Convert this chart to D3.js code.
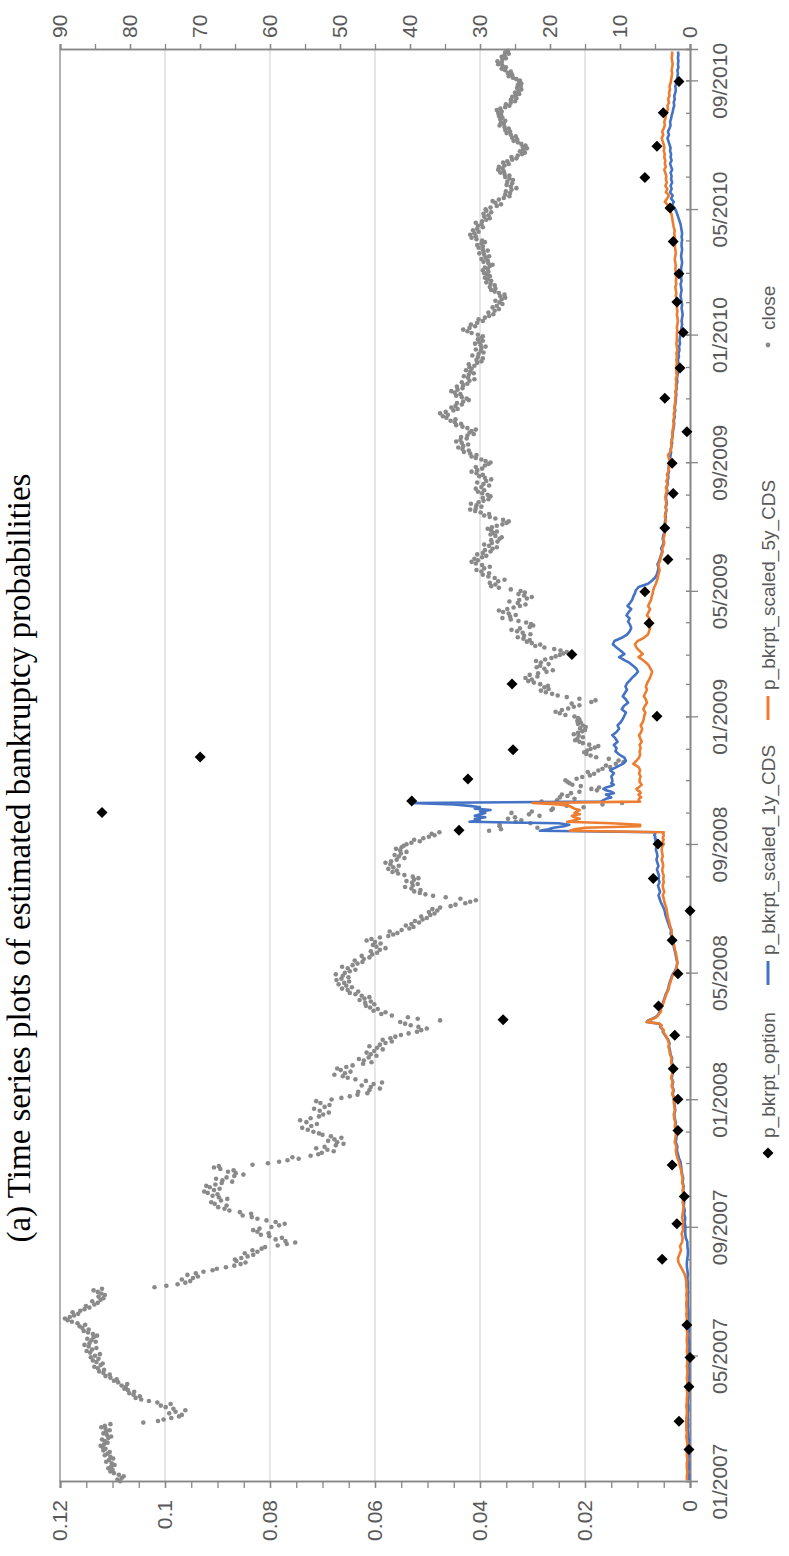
<!DOCTYPE html>
<html>
<head>
<meta charset="utf-8">
<script src="https://cdn.jsdelivr.net/npm/d3@7"></script>
<style>
  body { margin: 0; background: #fff; }
  svg { display: block; }
</style>
</head>
<body>
<div id="chart"></div>
<script>
// months covered by the series (one entry per month, 01/2007 .. 09/2010)
var monthLabels = ["2007-01","2007-02","2007-03","2007-04","2007-05","2007-06","2007-07","2007-08","2007-09","2007-10","2007-11","2007-12",
  "2008-01","2008-02","2008-03","2008-04","2008-05","2008-06","2008-07","2008-08","2008-09","2008-10","2008-11","2008-12",
  "2009-01","2009-02","2009-03","2009-04","2009-05","2009-06","2009-07","2009-08","2009-09","2009-10","2009-11","2009-12",
  "2010-01","2010-02","2010-03","2010-04","2010-05","2010-06","2010-07","2010-08","2010-09"]

// close price (right axis), daily values, spread over each month
var closeByMonth = [
  [81.4,81.8,81.2,80.9,81.6,82.3,82.8,82.5,83.1,82.7,82.2,82.6,83.4,83.0,82.4,82.8,83.6,83.2,82.9,83.8],
  [83.5,83.9,84.2,83.7,83.2,83.6,84.0,83.1,82.7,83.3,83.8,83.4,82.9,83.5,84.1,83.6,82.8,78.1,76.0],
  [75.2,74.1,73.0,72.6,74.4,73.5,72.1,73.8,74.9,75.6,74.2,76.1,77.3,78.4,79.2,78.6,79.5,80.1,79.4,80.3,80.8],
  [80.6,81.2,80.4,81.7,82.3,81.9,82.8,83.5,82.9,83.8,84.4,83.7,84.6,85.1,84.2,83.9,84.8,85.3,84.5,85.6],
  [85.0,84.3,85.7,86.2,85.4,84.8,85.9,86.5,85.8,84.9,85.5,86.1,85.2,84.7,85.3,86.0,86.6,85.9,86.8,87.2,86.4],
  [87.5,88.3,88.9,89.3,88.6,88.0,87.4,88.2,87.1,86.5,85.8,86.3,85.1,84.6,85.4,84.2,83.8,84.5,83.6,84.1],
  [84.6,85.2,84.0,76.5,74.8,73.2,72.1,71.4,72.6,71.0,70.3,71.8,70.6,69.5,68.2,67.6,66.3,65.1,64.2,63.5,64.8],
  [65.0,64.1,63.2,62.4,63.6,61.8,62.5,61.2,60.7,58.9,57.6,56.4,57.8,59.2,58.3,60.1,61.3,60.2,61.8,62.4,61.5],
  [59.8,58.7,57.9,59.2,60.5,61.8,62.6,63.9,62.7,64.3,65.8,66.5,67.4,66.2,67.9,68.4,67.0,66.1,67.3],
  [68.2,67.5,68.9,69.4,68.0,67.2,68.6,69.1,67.8,66.9,65.4,66.8,67.7,66.2,65.1,63.8,64.9,66.0,65.2,67.1,68.0,67.3,62.5],
  [60.3,58.7,57.5,55.9,56.8,54.2,53.1,52.6,50.9,51.8,53.4,52.2,50.6,49.5,50.4,51.7,50.8,49.8,51.3,52.5,53.0],
  [53.8,54.6,55.4,54.1,53.3,54.8,55.7,54.2,53.0,52.4,51.6,52.9,53.7,52.2,51.5,52.8,53.4],
  [51.2,49.8,48.6,47.5,46.1,47.4,45.8,44.3,45.6,46.9,45.2,44.0,46.3,47.8,48.9,49.6,50.8,49.3,48.5,49.9,50.4],
  [49.1,48.2,46.7,45.5,46.6,47.3,45.9,44.8,45.6,46.2,45.1,43.9,44.7,45.8,44.3,43.5,42.6,43.9,42.8],
  [42.1,41.3,40.2,39.0,38.4,37.6,38.8,39.9,40.7,41.4,35.7,38.9,40.3,42.6,44.1,43.5,45.2,44.6,45.7,46.3],
  [45.1,46.4,45.6,47.2,46.5,45.8,46.9,47.8,48.6,47.4,48.9,49.7,48.3,49.1,50.2,49.4,48.7,50.5,49.8,48.8,49.6,50.6],
  [49.3,48.6,47.8,48.9,49.7,48.2,47.5,46.8,47.9,46.6,45.8,46.9,45.4,44.7,45.6,44.3,43.5,44.8,45.3,44.2,45.0],
  [46.2,45.5,44.3,43.1,42.4,41.8,42.9,41.2,40.1,39.5,40.6,39.8,38.7,39.3,38.2,37.6,38.4,37.1,36.5,37.3,36.1],
  [36.8,35.7,34.2,33.5,32.1,31.4,30.6,32.8,34.9,36.7,37.8,38.6,39.4,38.5,39.8,40.7,39.6,38.9,39.7,40.5,39.4,38.8],
  [39.6,40.8,41.7,42.5,41.9,43.1,42.4,41.6,42.8,43.5,42.7,41.9,40.8,41.6,42.2,41.3,40.5,41.4,42.0,41.2,40.9],
  [40.5,39.8,38.6,39.4,38.1,37.3,36.5,36.9,35.8,28.7,27.0,21.8,27.2,27.2,22.8,24.9,24.1,26.0,25.0,21.5,23.0],
  [25.5,22.6,19.8,19.6,15.2,17.6,12.5,9.7,21.2,19.0,16.5,18.6,17.5,18.3,17.0,15.8,13.3,14.1,13.0,15.6,16.8,17.2,17.5],
  [17.8,16.2,15.4,14.3,13.7,14.6,13.1,12.5,11.4,12.0,10.6,9.5,10.2,11.6,13.4,14.2,14.8,15.1,14.7],
  [14.2,13.6,13.1,14.4,15.3,15.8,16.4,16.1,15.3,15.9,16.6,16.0,15.4,15.0,15.7,14.9,15.3,16.0,15.6,16.1,15.8,16.0],
  [16.5,17.8,18.6,19.2,18.3,17.4,16.6,15.8,16.9,14.1,13.5,15.8,17.6,18.9,19.7,20.6,21.3,20.2,20.8,20.3],
  [21.4,22.3,23.1,22.6,23.5,21.8,22.9,21.7,20.5,19.6,20.8,21.9,21.4,20.2,21.3,22.0,20.7,19.8,19.2],
  [18.6,18.1,17.6,18.5,19.4,20.8,22.1,21.4,22.6,23.3,22.9,23.8,24.6,23.7,22.8,23.9,24.7,25.5,24.3,22.9,22.4,22.7],
  [23.4,24.5,25.6,26.8,25.7,24.9,25.9,26.7,27.3,26.1,25.2,24.3,23.5,24.6,25.8,24.4,23.3,22.6,23.7,24.5,23.6],
  [24.2,25.6,27.3,28.4,27.8,28.6,27.4,26.5,27.9,28.8,29.6,28.7,29.8,30.5,29.4,28.6,29.7,30.6,31.2,30.3],
  [30.8,29.7,29.1,30.4,29.6,28.5,29.3,28.2,27.6,28.7,29.4,28.3,27.5,28.4,27.2,26.9,27.8,28.5,28.1,27.6,28.4,28.9],
  [28.3,27.6,26.8,26.2,25.9,26.7,27.8,28.6,29.4,28.7,29.9,30.7,31.4,30.6,29.8,30.5,31.3,30.2,29.5,28.8,29.6,28.5],
  [28.9,29.7,30.3,29.4,30.6,29.8,28.7,29.5,30.4,29.1,28.4,29.3,30.1,29.6,30.5,31.2,30.4,29.7,30.6,29.3,28.8],
  [28.5,29.2,29.8,30.6,31.2,30.5,31.4,32.3,31.6,32.5,33.1,32.4,31.7,32.6,33.4,32.8,31.9,32.7,31.8,30.9,31.5],
  [31.2,30.6,31.8,32.5,33.4,32.7,33.6,34.2,33.5,34.8,35.3,34.6,35.7,34.9,33.8,33.2,34.1,33.5,32.6,33.3,32.4,31.6],
  [31.9,32.6,33.4,32.8,33.6,34.1,33.2,32.5,33.3,32.4,31.8,32.6,31.5,30.8,31.7,32.3,31.6,30.9,31.4,32.0,31.2],
  [31.5,30.8,31.6,30.4,29.8,30.5,29.6,30.3,31.1,30.2,29.5,29.9,30.6,29.8,29.2,29.9,30.7,30.1,29.6,30.3,29.8,29.6],
  [30.3,31.2,31.8,32.4,31.5,30.7,31.3,30.4,29.6,30.2,29.3,28.7,28.1,28.8,27.9,27.3,28.2,27.6,26.8],
  [27.2,27.8,26.9,26.4,27.1,26.5,27.3,27.9,28.4,27.8,28.6,27.9,28.5,29.1,28.4,28.9,29.3,28.6,29.0],
  [29.4,28.8,29.6,28.9,29.3,28.6,28.2,28.8,29.5,28.9,29.8,29.2,28.7,29.4,30.1,29.5,28.9,29.6,30.2,29.6,30.4,29.8,29.3],
  [29.7,30.5,31.2,30.6,31.4,30.8,30.2,31.0,30.4,29.6,30.3,29.8,30.6,29.7,29.1,28.6,29.4,28.8,29.5,28.4,29.1],
  [29.2,28.5,27.6,27.0,27.8,28.2,27.3,26.6,25.8,26.4,25.7,26.3,25.5,24.8,25.6,26.2,25.4,26.1,25.3,25.8],
  [26.4,25.8,26.5,27.1,26.6,27.4,26.8,27.3,26.5,25.9,26.7,26.1,25.4,24.8,25.5,24.6,24.0,23.6,24.3,23.8,23.3,23.9],
  [23.5,24.1,24.6,25.2,24.7,25.4,24.9,25.6,26.2,25.7,26.4,25.9,26.5,27.2,26.6,27.0,26.4,27.1,26.8,27.3,27.0],
  [27.4,26.9,27.6,27.1,26.4,25.8,26.3,25.6,25.0,25.6,24.8,25.4,24.9,24.4,25.0,24.5,24.1,24.7,24.2,24.6,24.1,24.4],
  [24.3,24.8,25.3,25.9,25.4,26.0,25.6,26.4,26.9,26.3,26.8,27.4,26.9,27.5,26.8,26.3,26.9,26.5,25.9,26.4,26.0]
]

// p_bkrpt_scaled_1y_CDS (left axis), per month
var cds1yByMonth = [
  [0.0002,0.0002,0.0003,0.0002,0.0002,0.0003,0.0002,0.0002],
  [0.0002,0.0003,0.0002,0.0003,0.0003,0.0004,0.0003,0.0004],
  [0.0004,0.0004,0.0003,0.0003,0.0004,0.0003,0.0003,0.0003],
  [0.0003,0.0003,0.0002,0.0002,0.0002,0.0003,0.0002,0.0002],
  [0.0002,0.0002,0.0002,0.0002,0.0003,0.0003,0.0002,0.0003],
  [0.0003,0.0003,0.0003,0.0003,0.0004,0.0004,0.0004,0.0004],
  [0.0004,0.0004,0.0004,0.0005,0.0004,0.0005,0.0006,0.0006],
  [0.0005,0.0004,0.0004,0.0005,0.0005,0.0008,0.0009,0.0009],
  [0.0009,0.0010,0.0009,0.0011,0.0010,0.0012,0.0011,0.0012],
  [0.0012,0.0013,0.0012,0.0014,0.0013,0.0015,0.0016,0.0017],
  [0.0018,0.0021,0.0023,0.0025,0.0024,0.0027,0.0026,0.0025],
  [0.0026,0.0028,0.0027,0.0029,0.0030,0.0028,0.0029,0.0030],
  [0.0030,0.0033,0.0031,0.0034,0.0032,0.0035,0.0033,0.0032],
  [0.0033,0.0035,0.0034,0.0037,0.0038,0.0040,0.0039,0.0042],
  [0.0046,0.0048,0.0050,0.0052,0.0051,0.0054,0.0057,0.0055,0.0060,0.0082,0.0080,0.0072,0.0066,0.0062,0.0060,0.0058,0.0056,0.0057,0.0055,0.0054],
  [0.0052,0.0050,0.0048,0.0046,0.0043,0.0041,0.0040,0.0038,0.0036,0.0034],
  [0.0030,0.0027,0.0025,0.0024,0.0026,0.0027,0.0028,0.0030,0.0031,0.0032],
  [0.0033,0.0035,0.0037,0.0036,0.0039,0.0041,0.0043,0.0045,0.0047,0.0048],
  [0.0050,0.0053,0.0056,0.0058,0.0060,0.0057,0.0059,0.0061,0.0058,0.0060],
  [0.0059,0.0061,0.0063,0.0060,0.0062,0.0064,0.0062,0.0063,0.0065,0.0064],
  [0.0063,0.0065,0.0066,0.0064,0.0067,0.0066,0.0068,0.0066,0.0066,0.0286,0.027,0.026,0.024,0.023,0.025,0.042,0.040,0.041,0.039,0.041,0.040],
  [0.039,0.040,0.038,0.041,0.040,0.042,0.045,0.0533,0.017,0.0165,0.016,0.015,0.0155,0.016,0.0145,0.015,0.016,0.0165,0.016,0.015,0.0145,0.0150,0.0148],
  [0.0148,0.0150,0.0145,0.0152,0.0140,0.0128,0.0122,0.0125,0.0135,0.0142],
  [0.0140,0.0145,0.0138,0.0142,0.0148,0.0140,0.0135,0.0138,0.0132,0.0128],
  [0.0125,0.0122,0.0130,0.0126,0.0118,0.0122,0.0128,0.0124,0.0120,0.0123],
  [0.0120,0.0115,0.0110,0.0104,0.0099,0.0102,0.0108,0.0115,0.0125,0.0135],
  [0.0125,0.0132,0.0140,0.0147,0.0144,0.0130,0.0120,0.0115,0.0112,0.0114],
  [0.0118,0.0115,0.0121,0.0117,0.0112,0.0119,0.0114,0.0110,0.0108,0.0105],
  [0.0103,0.0098,0.0080,0.0072,0.0066,0.0063,0.0061,0.0060,0.0062,0.0059],
  [0.0057,0.0055,0.0053,0.0055,0.0052,0.0050,0.0052,0.0051,0.0049,0.0050],
  [0.0049,0.0048,0.0047,0.0046,0.0047,0.0045,0.0046,0.0044,0.0045,0.0046],
  [0.0044,0.0043,0.0045,0.0042,0.0043,0.0041,0.0042,0.0040,0.0041,0.0040],
  [0.0039,0.0038,0.0037,0.0036,0.0037,0.0035,0.0034,0.0035,0.0033,0.0033],
  [0.0032,0.0031,0.0030,0.0031,0.0029,0.0030,0.0028,0.0029,0.0028,0.0027],
  [0.0027,0.0026,0.0027,0.0025,0.0026,0.0024,0.0025,0.0024,0.0023,0.0024],
  [0.0023,0.0022,0.0023,0.0021,0.0022,0.0020,0.0021,0.0019,0.0020,0.0019],
  [0.0018,0.0017,0.0016,0.0015,0.0016,0.0015,0.0014,0.0015,0.0016,0.0015],
  [0.0016,0.0017,0.0018,0.0017,0.0016,0.0017,0.0018,0.0016,0.0017,0.0016],
  [0.0016,0.0017,0.0016,0.0015,0.0016,0.0017,0.0016,0.0015,0.0016,0.0016],
  [0.0015,0.0016,0.0015,0.0016,0.0017,0.0018,0.0020,0.0022,0.0024,0.0026],
  [0.0029,0.0034,0.0031,0.0036,0.0033,0.0038,0.0035,0.0037,0.0034,0.0036],
  [0.0035,0.0037,0.0034,0.0036,0.0038,0.0035,0.0037,0.0036,0.0038,0.0037],
  [0.0039,0.0041,0.0043,0.0040,0.0042,0.0039,0.0037,0.0038,0.0036,0.0035],
  [0.0033,0.0032,0.0030,0.0031,0.0029,0.0030,0.0028,0.0027,0.0028,0.0026],
  [0.0025,0.0024,0.0023,0.0024,0.0022,0.0023,0.0022,0.0023,0.0022,0.0023]
]

// p_bkrpt_scaled_5y_CDS (left axis), per month
var cds5yByMonth = [
  [0.0006,0.0006,0.0005,0.0006,0.0006,0.0005,0.0006,0.0006],
  [0.0006,0.0005,0.0006,0.0007,0.0006,0.0007,0.0007,0.0007],
  [0.0007,0.0006,0.0006,0.0007,0.0006,0.0006,0.0005,0.0006],
  [0.0005,0.0005,0.0006,0.0005,0.0005,0.0006,0.0005,0.0005],
  [0.0005,0.0006,0.0005,0.0006,0.0006,0.0005,0.0006,0.0006],
  [0.0006,0.0006,0.0007,0.0006,0.0007,0.0007,0.0006,0.0007],
  [0.0006,0.0007,0.0007,0.0008,0.0010,0.0014,0.0018,0.0022],
  [0.0023,0.0020,0.0017,0.0019,0.0015,0.0014,0.0016,0.0013],
  [0.0014,0.0013,0.0015,0.0014,0.0013,0.0012,0.0014,0.0013],
  [0.0013,0.0014,0.0013,0.0015,0.0014,0.0016,0.0017,0.0019],
  [0.0021,0.0024,0.0026,0.0027,0.0026,0.0029,0.0028,0.0027],
  [0.0027,0.0029,0.0028,0.0030,0.0031,0.0029,0.0030,0.0031],
  [0.0031,0.0034,0.0032,0.0035,0.0033,0.0036,0.0034,0.0033],
  [0.0034,0.0036,0.0035,0.0038,0.0039,0.0041,0.0040,0.0043],
  [0.0045,0.0047,0.0049,0.0051,0.0050,0.0053,0.0056,0.0054,0.0058,0.0083,0.0078,0.0070,0.0064,0.0061,0.0059,0.0056,0.0055,0.0056,0.0054,0.0053],
  [0.0051,0.0049,0.0047,0.0045,0.0042,0.0040,0.0039,0.0037,0.0035,0.0033],
  [0.0029,0.0026,0.0025,0.0024,0.0025,0.0026,0.0027,0.0029,0.0030,0.0031],
  [0.0032,0.0034,0.0035,0.0035,0.0037,0.0039,0.0040,0.0042,0.0043,0.0044],
  [0.0045,0.0047,0.0049,0.0050,0.0052,0.0049,0.0051,0.0052,0.0050,0.0051],
  [0.0050,0.0052,0.0053,0.0051,0.0052,0.0054,0.0052,0.0053,0.0054,0.0053],
  [0.0050,0.0051,0.0052,0.0050,0.0052,0.0051,0.0050,0.0051,0.0050,0.0229,0.022,0.020,0.0095,0.0095,0.015,0.0234,0.022,0.021,0.022,0.0225,0.021],
  [0.022,0.0215,0.021,0.022,0.0225,0.023,0.025,0.030,0.0095,0.0098,0.0097,0.0093,0.0096,0.0098,0.0094,0.0095,0.0100,0.0102,0.0098,0.0095,0.0092,0.0094,0.0096],
  [0.0096,0.0094,0.0097,0.0095,0.0098,0.0108,0.0102,0.0097,0.0095,0.0096],
  [0.0094,0.0096,0.0092,0.0095,0.0097,0.0093,0.0091,0.0094,0.0090,0.0088],
  [0.0087,0.0085,0.0089,0.0086,0.0082,0.0084,0.0088,0.0085,0.0082,0.0084],
  [0.0082,0.0079,0.0076,0.0074,0.0072,0.0075,0.0078,0.0083,0.0090,0.0098],
  [0.0090,0.0096,0.0102,0.0105,0.0100,0.0088,0.0080,0.0078,0.0076,0.0078],
  [0.0080,0.0077,0.0082,0.0079,0.0076,0.0080,0.0077,0.0074,0.0073,0.0071],
  [0.0070,0.0068,0.0065,0.0063,0.0061,0.0060,0.0058,0.0059,0.0060,0.0057],
  [0.0056,0.0054,0.0052,0.0053,0.0050,0.0049,0.0051,0.0049,0.0048,0.0048],
  [0.0048,0.0047,0.0046,0.0048,0.0046,0.0045,0.0047,0.0045,0.0046,0.0047],
  [0.0046,0.0044,0.0046,0.0043,0.0045,0.0042,0.0044,0.0041,0.0040,0.0039],
  [0.0038,0.0040,0.0042,0.0038,0.0036,0.0035,0.0036,0.0034,0.0033,0.0034],
  [0.0033,0.0032,0.0031,0.0032,0.0030,0.0031,0.0029,0.0030,0.0029,0.0028],
  [0.0028,0.0027,0.0028,0.0026,0.0027,0.0026,0.0027,0.0025,0.0026,0.0026],
  [0.0026,0.0025,0.0026,0.0025,0.0026,0.0024,0.0025,0.0026,0.0025,0.0025],
  [0.0025,0.0024,0.0025,0.0024,0.0023,0.0024,0.0025,0.0024,0.0025,0.0024],
  [0.0025,0.0026,0.0027,0.0026,0.0027,0.0028,0.0026,0.0027,0.0026,0.0027],
  [0.0027,0.0028,0.0027,0.0028,0.0029,0.0028,0.0027,0.0028,0.0029,0.0028],
  [0.0028,0.0029,0.0030,0.0029,0.0031,0.0032,0.0033,0.0034,0.0035,0.0037],
  [0.0045,0.0042,0.0048,0.0044,0.0040,0.0046,0.0043,0.0047,0.0044,0.0046],
  [0.0045,0.0047,0.0049,0.0046,0.0048,0.0047,0.0049,0.0048,0.0050,0.0049],
  [0.0050,0.0052,0.0054,0.0051,0.0053,0.0050,0.0048,0.0049,0.0047,0.0046],
  [0.0044,0.0042,0.0043,0.0040,0.0042,0.0039,0.0040,0.0038,0.0039,0.0037],
  [0.0036,0.0035,0.0034,0.0035,0.0034,0.0033,0.0034,0.0035,0.0034,0.0034]
]

// p_bkrpt_option (left axis)
var optionDates = ["2007-02-01","2007-02-28","2007-04-02","2007-04-30","2007-05-31","2007-08-02","2007-09-05","2007-10-01","2007-10-31",
  "2007-12-03","2008-01-02","2008-01-31","2008-03-03","2008-03-18","2008-03-31","2008-05-01","2008-06-02","2008-06-30","2008-07-31",
  "2008-09-02","2008-09-15","2008-10-02","2008-10-13","2008-11-03","2008-11-24","2008-12-01","2009-01-02","2009-02-02","2009-03-02",
  "2009-04-01","2009-05-01","2009-06-01","2009-07-01","2009-08-03","2009-09-01","2009-10-01","2009-11-02","2009-12-01","2010-01-04",
  "2010-02-02","2010-03-01","2010-04-01","2010-05-03","2010-06-01","2010-07-01","2010-08-02","2010-09-01"]
var optionValues = [0.0002,0.0021,0.0002,0.0000,0.0006,0.0053,0.0025,0.0011,0.0034,
  0.0023,0.0023,0.0032,0.0029,0.0356,0.0060,0.0023,0.0034,0.0000,0.0070,
  0.0061,0.0440,0.1120,0.0530,0.0423,0.0933,0.0337,0.0063,0.0339,0.0225,
  0.0078,0.0086,0.0042,0.0048,0.0032,0.0034,0.0006,0.0048,0.0019,0.0013,
  0.0025,0.0021,0.0032,0.0038,0.0086,0.0063,0.0051,0.0021]

var leftTicks = [0, 0.02, 0.04, 0.06, 0.08, 0.1, 0.12]
var rightTicks = [0, 10, 20, 30, 40, 50, 60, 70, 80, 90]
var legendNames = ["p_bkrpt_option", "p_bkrpt_scaled_1y_CDS", "p_bkrpt_scaled_5y_CDS", "close"]

// The chart is drawn landscape and turned a quarter turn to the left
var W = 1556, H = 789
var margin = { top: 60, left: 74, right: 50, bottom: 99 }

var svg = d3.select("#chart").append("svg")
  .attr("width", H)
  .attr("height", W)

var g = svg.append("g")
  .attr("transform", "translate(0," + W + ") rotate(-90)")

var parse = d3.timeParse("%Y-%m-%d")
var parseMonth = d3.timeParse("%Y-%m")

var x = d3.scaleTime()
  .domain([new Date(2007, 0, 1), new Date(2010, 9, 1)])
  .range([margin.left, W - margin.right])
var yLeft = d3.scaleLinear().domain([0, 0.12]).range([H - margin.bottom, margin.top])
var yRight = d3.scaleLinear().domain([0, 90]).range([H - margin.bottom, margin.top])

// spread the values of each month evenly through that month
function spread(byMonth) {
  var out = []
  byMonth.forEach(function(vals, i) {
    var start = parseMonth(monthLabels[i])
    var end = d3.timeMonth.offset(start, 1)
    vals.forEach(function(v, j) {
      var t = +start + (j + 0.5) / vals.length * (end - start)
      out.push({ date: new Date(t), value: v })
    })
  })
  return out
}

var closePoints = spread(closeByMonth)
var cds1y = spread(cds1yByMonth)
var cds5y = spread(cds5yByMonth)
var options = optionDates.map(function(d, i) { return { date: parse(d), value: optionValues[i] } })

var axisColor = "#878787"
var textColor = "#595959"
var labelFont = "'Liberation Sans Narrow', 'Liberation Sans', Arial, sans-serif"

// gridlines
g.append("g").selectAll("line")
  .data(leftTicks.filter(function(d) { return d > 0 }))
  .enter().append("line")
  .attr("x1", margin.left).attr("x2", W - margin.right)
  .attr("y1", function(d) { return yLeft(d) }).attr("y2", function(d) { return yLeft(d) })
  .attr("stroke", function(d) { return d === 0.12 ? axisColor : "#d9d9d9" })
  .attr("stroke-width", 1.3)

// left axis: minor ticks then labelled ticks
var leftMinor = g.append("g").attr("transform", "translate(" + margin.left + ",0)")
  .call(d3.axisLeft(yLeft).tickValues(d3.range(0, 0.1201, 0.005)).tickSize(6).tickFormat(""))
var leftAxis = g.append("g").attr("transform", "translate(" + margin.left + ",0)")
  .call(d3.axisLeft(yLeft).tickValues(leftTicks).tickSize(6).tickPadding(12)
    .tickFormat(function(d) { return String(+d.toFixed(2)) }))

// right axis
var rightMinor = g.append("g").attr("transform", "translate(" + (W - margin.right) + ",0)")
  .call(d3.axisRight(yRight).tickValues(d3.range(0, 91, 5)).tickSize(6).tickFormat(""))
var rightAxis = g.append("g").attr("transform", "translate(" + (W - margin.right) + ",0)")
  .call(d3.axisRight(yRight).tickValues(rightTicks).tickSize(6).tickPadding(6))

// date axis: month ticks inside, labelled ticks crossing
var dateMinor = g.append("g").attr("transform", "translate(0," + (H - margin.bottom) + ")")
  .call(d3.axisTop(x).ticks(d3.timeMonth.every(1)).tickSize(4).tickFormat(""))
var dateAxis = g.append("g").attr("transform", "translate(0," + (H - margin.bottom) + ")")
  .call(d3.axisBottom(x).ticks(d3.timeMonth.every(4)).tickSize(8).tickFormat(d3.timeFormat("%m/%Y")))
dateAxis.selectAll(".tick line").attr("y1", -4)
dateAxis.selectAll(".tick text").attr("y", 37).attr("dy", 0)

;[leftMinor, leftAxis, rightMinor, rightAxis, dateMinor, dateAxis].forEach(function(a) {
  a.selectAll(".domain").attr("stroke", axisColor).attr("stroke-width", 1.6)
  a.selectAll(".tick line").attr("stroke", axisColor).attr("stroke-width", 1.3)
  a.selectAll("text").attr("fill", textColor).attr("font-family", labelFont).attr("font-size", 21)
})

// close (dots)
g.append("g").selectAll("circle")
  .data(closePoints)
  .enter().append("circle")
  .attr("cx", function(d) { return x(d.date) })
  .attr("cy", function(d) { return yRight(d.value) })
  .attr("r", 2.3)
  .attr("fill", "#8a8a8a")

// CDS lines
var line = d3.line()
  .x(function(d) { return x(d.date) })
  .y(function(d) { return yLeft(d.value) })

g.append("path").datum(cds1y)
  .attr("d", line).attr("fill", "none")
  .attr("stroke", "#4472c4").attr("stroke-width", 2.6).attr("stroke-linejoin", "round")
g.append("path").datum(cds5y)
  .attr("d", line).attr("fill", "none")
  .attr("stroke", "#ed7d31").attr("stroke-width", 2.6).attr("stroke-linejoin", "round")

// option diamonds
var diamond = "M0,-5.5L5.5,0L0,5.5L-5.5,0Z"
g.append("g").selectAll("path")
  .data(options)
  .enter().append("path")
  .attr("d", diamond)
  .attr("transform", function(d) { return "translate(" + x(d.date) + "," + yLeft(d.value) + ")" })
  .attr("fill", "#000")

// title
g.append("text")
  .text("(a) Time series plots of estimated bankruptcy probabilities")
  .attr("x", 698)
  .attr("y", 30)
  .attr("text-anchor", "middle")
  .attr("font-family", "'Liberation Serif', 'Times New Roman', serif")
  .attr("font-size", 33)
  .attr("fill", "#000")

// legend
var legend = g.append("g").attr("transform", "translate(0,768)")
var legendX = [403, 571, 836, 1211]
legendNames.forEach(function(name, i) {
  var item = legend.append("g").attr("transform", "translate(" + legendX[i] + ",0)")
  var textStart = 15
  if (i === 0) {
    item.append("path").attr("d", diamond).attr("fill", "#000")
  } else if (i === 3) {
    item.append("circle").attr("r", 2.4).attr("fill", "#8a8a8a")
  } else {
    item.append("line").attr("x1", 0).attr("x2", 24)
      .attr("stroke", i === 1 ? "#4472c4" : "#ed7d31").attr("stroke-width", 3)
    textStart = 30
  }
  item.append("text").text(name)
    .attr("x", textStart).attr("y", 0).attr("dy", "0.35em")
    .attr("font-family", labelFont).attr("font-size", 19)
    .attr("fill", textColor)
})
</script>
</body>
</html>
